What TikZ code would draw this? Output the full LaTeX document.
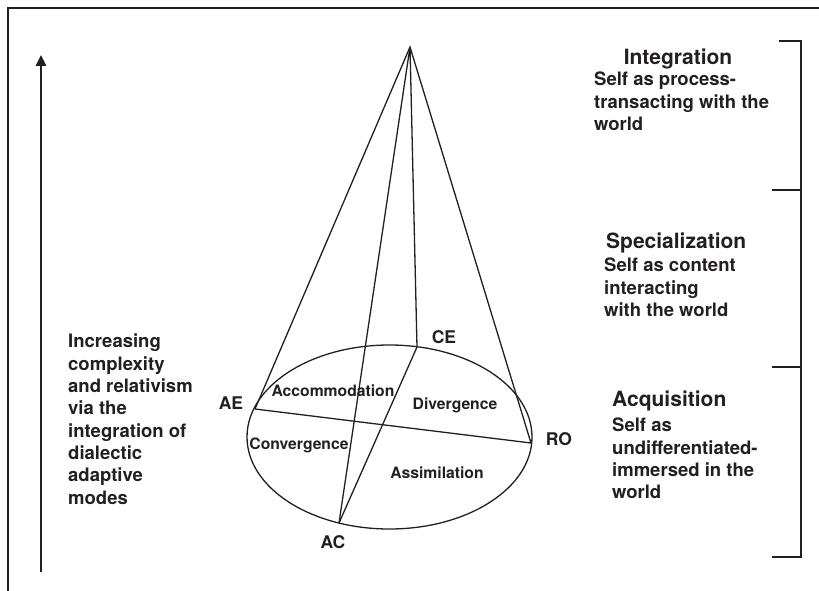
\documentclass[tikz,border=0pt]{standalone}
\usepackage{fontspec}
\setmainfont{TeX Gyre Heros}
\usetikzlibrary{arrows.meta}
\definecolor{ink}{HTML}{231F20}

\begin{document}
\begin{tikzpicture}[x=1pt,y=-1pt,
  every node/.style={text=ink,inner sep=0pt},
  cone/.style={draw=ink,line width=1.3pt},
  brace/.style={draw=ink,line width=2.8pt},
  body/.style={font=\fontsize{18.5}{22.3}\selectfont\bfseries,align=left,anchor=north west},
  head/.style={font=\fontsize{21}{25}\selectfont\bfseries},
  pole/.style={font=\fontsize{17.5}{20}\selectfont\bfseries},
  mode/.style={font=\fontsize{15.7}{18}\selectfont\bfseries}]
\useasboundingbox (0,0) rectangle (819,591);
% frame
\draw[draw=ink,line width=1.4pt] (8,591) -- (8,8) -- (819,8);

% cone over the learning space
\coordinate (apex) at (410,47);
\coordinate (base) at (389.5,437);
\coordinate (ae) at (255,409);
\coordinate (ce) at (417,347);
\coordinate (ro) at (531,443);
\coordinate (ac) at (339,523);
\draw[cone] (base) ellipse [x radius=142.5pt, y radius=92pt];
\draw[cone] (ae) -- (apex) -- (ro);
\draw[cone] (ce) -- (apex) -- (ac);
\draw[cone] (ae) -- (ro);
\draw[cone] (ce) -- (ac);

\node[pole] (lae) at (231,403) {AE};
\node[pole] (lce) at (444,337) {CE};
\node[pole] (lro) at (559,439) {RO};
\node[pole] (lac) at (333,542) {AC};

\node[mode] (accom) at (333,391) {Accommodation};
\node[mode] (diver) at (455,405) {Divergence};
\node[mode] (conver) at (299,445) {Convergence};
\node[mode] (assim) at (437,473) {Assimilation};

% complexity axis
\coordinate (low) at (41,572);
\coordinate (high) at (41,55);
\draw[draw=ink,line width=2.6pt,-{Triangle[width=10pt,length=11pt]}] (low) -- (high);
\node[body] (grow) at (68,334) {Increasing\\complexity\\and relativism\\via the\\integration of\\dialectic\\adaptive\\modes};

% stages
\coordinate (b1) at (801,41);
\coordinate (b2) at (801,190);
\coordinate (b3) at (801,367);
\coordinate (b4) at (801,557);
\draw[brace] (779,41) -- (b1) -- (b4) -- (772,557);
\draw[brace] (772,190) -- (b2);
\draw[brace] (772,367) -- (b3);

\node[head] (integ) at (678,59) {Integration};
\node[body] (integtxt) at (594,72) {Self as process-\\transacting with the\\world};
\node[head,anchor=west] (spec) at (606,243) {Specialization};
\node[body] (spectxt) at (604,258) {Self as content\\interacting\\with the world};
\node[head,anchor=west] (acqu) at (612,401) {Acquisition};
\node[body] (acqutxt) at (612,418) {Self as\\undifferentiated-\\immersed in the\\world};
\end{tikzpicture}
\end{document}
